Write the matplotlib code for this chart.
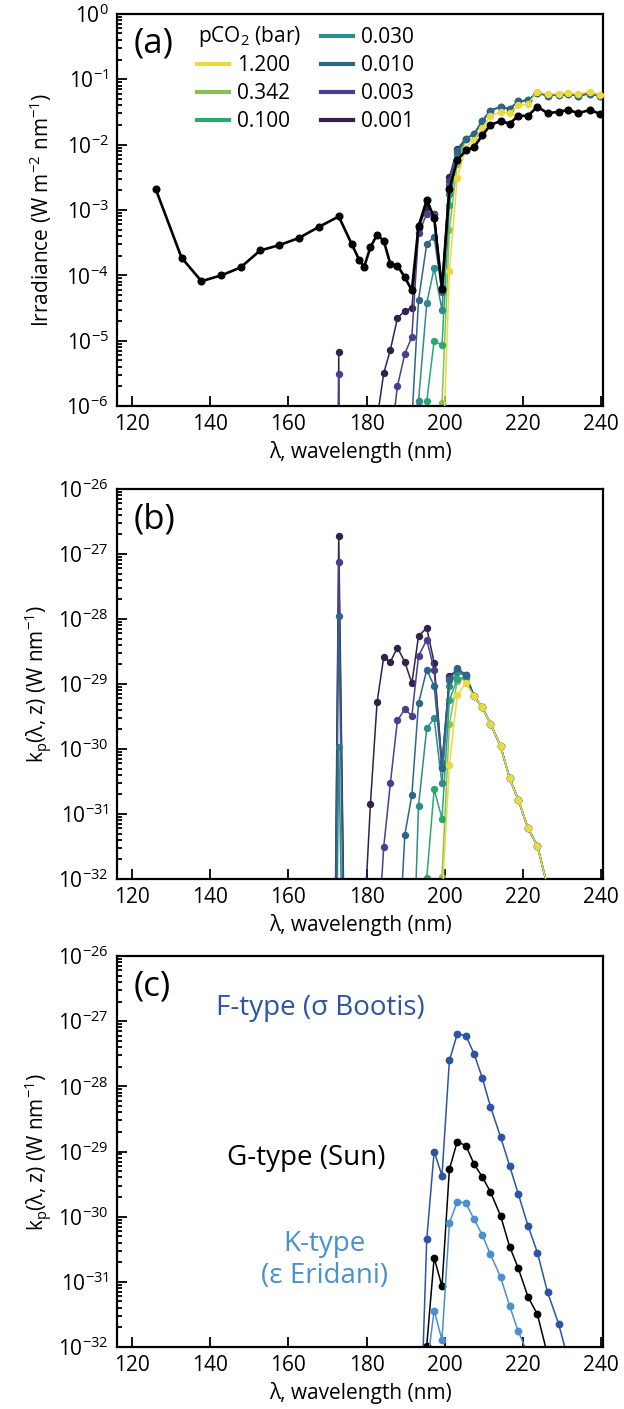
import numpy as np
import matplotlib
matplotlib.use("Agg")
import matplotlib.pyplot as plt
from matplotlib.lines import Line2D
from matplotlib.ticker import NullFormatter, LogLocator

plt.rcParams['font.family'] = ['Open Sans', 'DejaVu Sans']
plt.rcParams['mathtext.fontset'] = 'custom'
plt.rcParams['mathtext.rm'] = 'Open Sans'
plt.rcParams['mathtext.it'] = 'Open Sans:italic'
plt.rcParams['mathtext.default'] = 'regular'

N = -60.0  # log10 of "nothing reaches here"

# wavelength grid of the stellar spectrum (nm)
wl_star = [126.1, 132.7, 137.8, 142.9, 147.8, 152.8, 157.6, 162.7, 167.8, 172.9,
           176.2, 178.1, 179.4, 181.0, 182.7, 184.4, 186.1, 187.9, 189.8, 191.6,
           193.3, 195.4, 197.3, 199.3, 201.2, 203.2, 205.4, 207.5, 209.6, 211.7,
           214.3, 216.6, 218.8, 221.3, 223.7, 226.3, 229.1, 231.6, 234.2, 237.1, 239.7]
# log10 irradiance at top of atmosphere (W m-2 nm-1)
log_irr_top = [-2.68, -3.73, -4.09, -4.00, -3.88, -3.62, -3.54, -3.43, -3.26, -3.10,
               -3.52, -3.76, -3.87, -3.57, -3.38, -3.47, -3.83, -3.85, -4.03, -4.23,
               -3.25, -2.85, -3.12, -4.21, -2.68, -2.24, -2.09, -2.04, -1.86, -1.70,
               -1.64, -1.68, -1.56, -1.56, -1.42, -1.52, -1.50, -1.47, -1.52, -1.47, -1.53]

wl = wl_star[8:]
pco2 = ['1.200', '0.342', '0.100', '0.030', '0.010', '0.003', '0.001']
colors = ['#ecd940', '#86c25a', '#2ea672', '#2e8c8a', '#2f6688', '#4a3f8a', '#33204d']
# drawing order, bottom to top
draw_order = ['0.001', '0.003', '0.342', '0.100', '0.030', '0.010', '1.200']

# surface irradiance, log10, 167.8-203.2 nm
irr_short = {
    '0.001': [N, -5.18, N, N, N, N, -6.2, -5.50, -5.14, -4.66, -4.54, -4.50, -3.28, -2.95, -3.06, -4.20, -2.50, -2.07],
    '0.003': [N, -5.51, N, N, N, N, N, N, -6.6, -5.70, -5.20, -4.94, -3.36, -3.06, -3.06, -4.20, -2.56, -2.08],
    '0.010': [N, N, N, N, N, N, N, N, N, N, N, -6.22, -4.38, -3.52, -3.41, -4.25, -2.62, -2.10],
    '0.030': [N, N, N, N, N, N, N, N, N, N, N, -6.17, -5.93, -4.43, -3.89, -4.53, -2.75, -2.13],
    '0.100': [N, N, N, N, N, N, N, N, N, N, N, N, -6.66, -5.93, -5.00, -5.07, -2.93, -2.18],
    '0.342': [N, N, N, N, N, N, N, N, N, N, N, N, N, N, -6.4, -5.96, -3.30, -2.30],
    '1.200': [N, N, N, N, N, N, N, N, N, N, N, N, N, N, N, -7.2, -3.93, -2.51],
}
# 205.4-239.7 nm
irr_tail = [-1.91, -1.84, -1.64, -1.48, -1.42, -1.45, -1.34, -1.32, -1.21, -1.25, -1.24, -1.23, -1.25, -1.22, -1.25]
irr_tail_1200 = [-2.05, -1.93, -1.75, -1.56, -1.50, -1.52, -1.40, -1.38, -1.19, -1.23, -1.22, -1.21, -1.23, -1.19, -1.24]

# photolysis rate, log10, 167.8-205.4 nm
kp_short = {
    '0.001': [N, -26.72, -41.2, N, -32.69, -30.85, -29.28, -28.59, -28.66, -28.44, -28.66, -28.99, -28.26, -28.14, -28.67, -30.27, -28.88, -28.78, -28.86],
    '0.003': [N, -27.13, -41.2, N, N, N, -33.2, -31.51, -30.53, -29.56, -29.39, -29.49, -28.57, -28.32, -28.78, -30.22, -28.91, -28.77, -28.86],
    '0.010': [N, -27.95, -41.2, N, N, N, N, N, N, -33.5, -31.32, -30.71, -29.30, -28.78, -29.03, -30.30, -28.94, -28.76, -28.86],
    '0.030': [N, -29.97, -41.2, N, N, N, N, N, N, N, N, -34.0, -30.88, -29.68, -29.53, -30.53, -29.03, -28.81, -28.88],
    '0.100': [N, N, N, N, N, N, N, N, N, N, N, N, -40.0, -31.99, -30.62, -31.07, -29.25, -28.93, -28.89],
    '0.342': [N, N, N, N, N, N, N, N, N, N, N, N, N, N, -40.0, -31.97, -29.61, -28.96, -28.91],
    '1.200': [N, N, N, N, N, N, N, N, N, N, N, N, N, N, N, -32.33, -30.25, -29.17, -28.99],
}
# 207.5-239.7 nm
kp_tail = [-29.19, -29.36, -29.61, -29.96, -30.45, -30.78, -31.22, -31.49, -32.12, N, N, N, N, N]

# photolysis rate for different host stars, log10
kp_F = [N] * 12 + [-34.2, -30.35, -29.00, -29.37, -27.60, -27.20, -27.22, -27.50, -27.87, -28.31,
                   -28.78, -29.22, -29.65, -30.14, -30.55, -31.16, -31.64, -32.2, N, N, N]
kp_G = [N] * 12 + [-40.0, -31.98, -30.63, -31.07, -29.27, -28.85, -28.91, -29.19, -29.39, -29.62,
                   -29.99, -30.46, -30.79, -31.23, -31.50, -32.12, N, N, N, N, N]
kp_K = [N] * 13 + [-32.33, -31.44, -31.89, -30.10, -29.77, -29.79, -30.04, -30.28, -30.58, -30.93,
                   -31.37, -31.76, -32.11, N, N, N, N, N, N, N]

FS = 15
color_of = dict(zip(pco2, colors))

fig = plt.figure(figsize=(6.24, 14.09), dpi=100)
left, width = 0.1875, 0.779
ax1 = fig.add_axes([left, 0.7118, width, 0.2784])
ax2 = fig.add_axes([left, 0.3762, width, 0.2767])
ax3 = fig.add_axes([left, 0.0440, width, 0.2775])


def style(ax, decades, ylabel):
    lo, hi = decades
    ax.set_yscale('log')
    ax.set_xlim(116.2, 240.5)
    ax.set_ylim(10.0 ** lo, 10.0 ** hi)
    ax.set_xticks(range(120, 241, 20))
    ax.set_yticks([10.0 ** k for k in range(lo, hi + 1)])
    ax.yaxis.set_minor_locator(LogLocator(base=10, subs=np.arange(2, 10), numticks=20))
    ax.yaxis.set_minor_formatter(NullFormatter())
    ax.tick_params(which='both', direction='in', labelsize=FS, width=1.3, top=False, right=False)
    ax.tick_params(which='major', length=7, pad=6)
    ax.tick_params(which='minor', length=3.5)
    for s in ax.spines.values():
        s.set_linewidth(1.6)
    ax.set_xlabel('λ, wavelength (nm)', fontsize=FS, labelpad=4)
    ax.set_ylabel(ylabel, fontsize=FS)
    ax.yaxis.set_label_coords(-0.13, 0.5)


# (a) surface irradiance
for z, p in enumerate(draw_order):
    tail = irr_tail_1200 if p == '1.200' else irr_tail
    y = 10 ** np.array(irr_short[p] + tail)
    ax1.plot(wl, y, '-o', color=color_of[p], lw=1.1, ms=4.3, zorder=2 + 0.1 * z)
ax1.plot(wl_star, 10 ** np.array(log_irr_top), '-o', color='black', lw=1.9, ms=4.8, zorder=5)
style(ax1, (-6, 0), 'Irradiance (W m$^{-2}$ nm$^{-1}$)')
ax1.text(0.035, 0.925, '(a)', transform=ax1.transAxes, fontsize=25, va='center', ha='left')

handles = [Line2D([], [], color='none')]
labels = ['']
for p, c in zip(pco2, colors):
    handles.append(Line2D([], [], color=c, lw=3))
    labels.append(p)
ax1.legend(handles, labels, ncol=2, frameon=False, loc='upper left', bbox_to_anchor=(0.165, 0.966),
           fontsize=FS, handlelength=1.55, handletextpad=0.35, columnspacing=1.5,
           labelspacing=0.34, borderpad=0, borderaxespad=0)
ax1.text(0.166, 0.943, 'pCO$_2$ (bar)', transform=ax1.transAxes, fontsize=FS, va='center', ha='left')

# (b) photolysis rate vs pCO2
for z, p in enumerate(draw_order):
    y = 10 ** np.array(kp_short[p] + kp_tail)
    ax2.plot(wl, y, '-o', color=color_of[p], lw=1.1, ms=4.3, zorder=2 + 0.1 * z)
style(ax2, (-32, -26), 'k$_\\mathrm{p}$(λ, z) (W nm$^{-1}$)')
ax2.text(0.035, 0.921, '(b)', transform=ax2.transAxes, fontsize=25, va='center', ha='left')

# (c) photolysis rate vs host star
ax3.plot(wl, 10 ** np.array(kp_F), '-o', color='#2b54a3', lw=1.1, ms=4.6)
ax3.plot(wl, 10 ** np.array(kp_G), '-o', color='black', lw=1.1, ms=4.6)
ax3.plot(wl, 10 ** np.array(kp_K), '-o', color='#4a90cf', lw=1.1, ms=4.6)
style(ax3, (-32, -26), 'k$_\\mathrm{p}$(λ, z) (W nm$^{-1}$)')
ax3.text(0.035, 0.921, '(c)', transform=ax3.transAxes, fontsize=25, va='center', ha='left')
ax3.text(141.4, 10 ** -26.80, 'F-type (σ Bootis)', color='#2b54a3', fontsize=20, va='center', ha='left')
ax3.text(144.4, 10 ** -29.10, 'G-type (Sun)', color='black', fontsize=20, va='center', ha='left')
ax3.text(169.3, 10 ** -30.66, 'K-type\n(ε Eridani)', color='#4a90cf', fontsize=20, va='center',
         ha='center', multialignment='center', linespacing=1.2)

fig.savefig('out.png', dpi=100)
